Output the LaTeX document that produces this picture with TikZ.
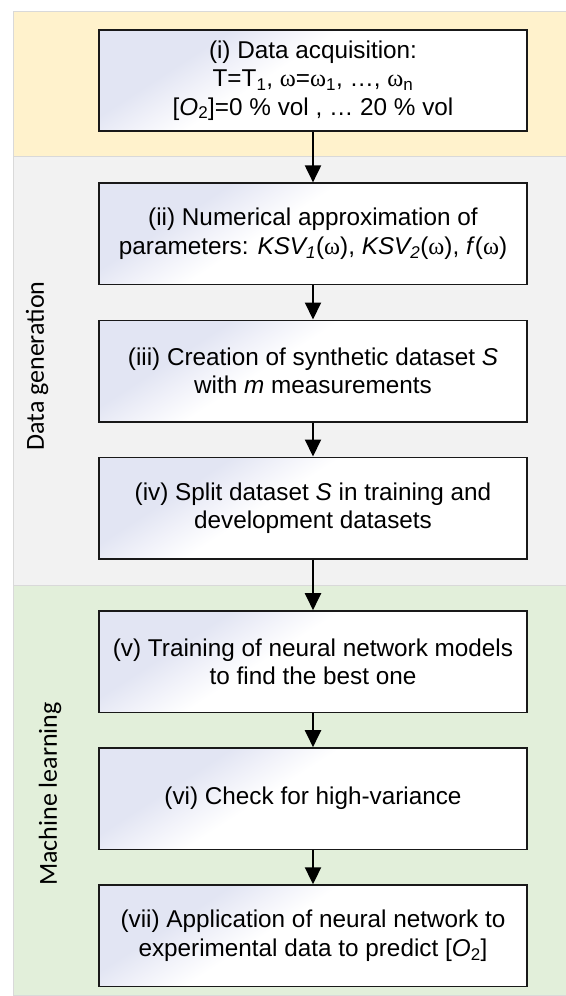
\documentclass[tikz,border=0pt]{standalone}
\usepackage{fontspec}
\setmainfont{Liberation Sans}
\newfontfamily\serifw{Liberation Serif}
\newfontfamily\sidefont{Carlito}
\usetikzlibrary{arrows.meta}
\definecolor{bandY}{HTML}{FFF2CC}
\definecolor{bandG}{HTML}{F2F2F2}
\definecolor{bandL}{HTML}{E2EFDA}
\definecolor{boxtint}{HTML}{E2E5F3}
\definecolor{boxmid}{HTML}{F0F1F9}
\definecolor{bandline}{HTML}{D9D9D9}
\pgfdeclarehorizontalshading{boxshade}{100bp}{color(0bp)=(boxtint); color(31bp)=(boxtint); color(37bp)=(boxmid); color(44bp)=(white); color(100bp)=(white)}
\newcommand{\om}{{\serifw ω}}
\newcommand{\subs}[1]{\textsubscript{#1}}
\begin{document}
\begin{tikzpicture}[x=1pt,y=-1pt,
  band/.style={draw=bandline, line width=0.8pt},
  stepbox/.style={draw=black!90, line width=1.6pt, minimum width=427.8pt, minimum height=101.4pt,
    align=center, inner sep=2pt, font=\fontsize{24.3}{28.5}\selectfont,
    shade, shading=boxshade, shading angle=-57},
  arr/.style={line width=2pt, -{Triangle[width=16pt,length=17pt]}},
  side/.style={rotate=90, font=\sidefont\fontsize{26}{30}\selectfont, anchor=center}
]
\useasboundingbox (0,0) rectangle (565,996);
\fill[white] (0,0) rectangle (565,996);
\draw[band, fill=bandY] (13.3,11.3) rectangle (566,156);
\draw[band, fill=bandG] (13.3,156) rectangle (566,585.3);
\draw[band, fill=bandL] (13.3,585.3) rectangle (566,995.5);

\node[side] (lg) at (37,366) {Data generation};
\node[side] (lm) at (50,794) {Machine learning};

\node[stepbox] (b1) at (313,80.4) {(i) Data acquisition:\\T=T\subs{1}, \om=\om\subs{1}, \dots, \om\subs{n}\\{}[\textit{O}\subs{2}]=0 \% vol , \dots\ 20 \% vol};
\node[stepbox] (b2) at (313,233.9) {(ii) Numerical approximation of\\parameters: \textit{KSV\subs{1}}(\om), \textit{KSV\subs{2}}(\om), \textit{f}(\om)};
\node[stepbox] (b3) at (313,371) {(iii) Creation of synthetic dataset \textit{S}\\with \textit{m} measurements};
\node[stepbox] (b4) at (313,508) {(iv) Split dataset \textit{S} in training and\\development datasets};
\node[stepbox] (b5) at (313,661.7) {(v) Training of neural network models\\to find the best one};
\node[stepbox] (b6) at (313,798.7) {(vi) Check for high-variance};
\node[stepbox] (b7) at (313,935.8) {(vii) Application of neural network to\\experimental data to predict [\textit{O}\subs{2}]};

\draw[arr] (b1) -- (b2);
\draw[arr] (b2) -- (b3);
\draw[arr] (b3) -- (b4);
\draw[arr] (b4) -- (b5);
\draw[arr] (b5) -- (b6);
\draw[arr] (b6) -- (b7);
\end{tikzpicture}
\end{document}
